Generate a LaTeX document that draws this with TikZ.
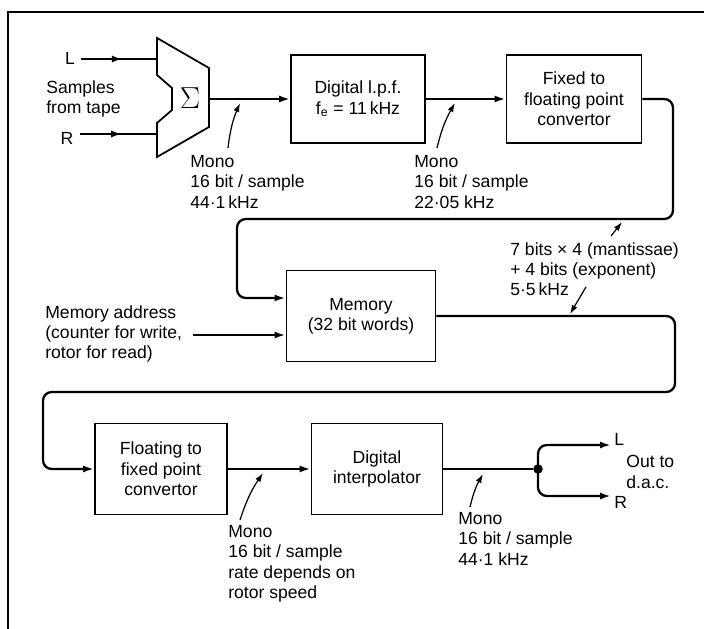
\documentclass[tikz,border=0pt]{standalone}
\usepackage{fontspec}
\setmainfont{Liberation Sans}
\usetikzlibrary{arrows.meta,decorations.markings}

\begin{document}
\begin{tikzpicture}[x=0.02cm,y=-0.02cm,>={Latex[length=2.2mm,width=1.4mm]},
  font=\fontsize{10}{11.6}\selectfont,
  blk/.style 2 args={draw,line width=1pt,align=center,inner sep=0pt,
    minimum width=#1,minimum height=#2},
  conn/.style={line width=1.3pt},
  note/.style={align=left,anchor=north west,inner sep=0pt},
  pointer/.style={line width=0.7pt,-{Latex[length=1.8mm,width=1.2mm]}},
  midarrow/.style={postaction={decorate},
    decoration={markings,mark=at position #1 with {\arrow{>}}}}]
  \useasboundingbox (0,0) rectangle (704,629);
  % frame
  \draw[line width=1pt] (8,629) -- (8,12) -- (704,12);

  % summing block
  \draw[line width=1pt] (157,38) -- (157,75) -- (172,88) -- (172,110)
    -- (157,123) -- (157,157) -- (209,127) -- (209,68) -- cycle;
  \node (sigma) at (190,98) {\fontsize{16}{16}\selectfont$\Sigma$};
  \coordinate (sumL) at (157,59);
  \coordinate (sumR) at (157,134);
  \coordinate (sumout) at (209,99);

  % tape inputs
  \node (inL) at (70,58) {L};
  \node (inR) at (67,138) {R};
  \node[note] (src) at (46,80) {Samples\\from tape};
  \draw[conn,midarrow=0.55] (inL.east |- sumL) -- (sumL);
  \draw[conn,midarrow=0.55] (inR.east |- sumR) -- (sumR);

  % blocks
  \node[blk={2.68cm}{1.76cm}] (lpf) at (358,99) {Digital l.p.f.\\f\textsubscript{e} = 11\,kHz};
  \node[blk={2.7cm}{1.76cm}] (fixed) at (574,99) {Fixed to\\floating point\\convertor};
  \node[blk={2.98cm}{1.82cm}] (mem) at (361,316) {Memory\\(32 bit words)};
  \node[blk={2.64cm}{1.82cm}] (float) at (161,469) {Floating to\\fixed point\\convertor};
  \node[blk={2.62cm}{1.82cm}] (interp) at (377,469) {Digital\\interpolator};

  % main chain
  \draw[conn,->] (sumout) -- (lpf.west);
  \draw[conn,->] (lpf.east) -- (fixed.west);
  \coordinate (memA) at (237,298);
  \draw[conn,->,rounded corners=5pt] (fixed.east) -| (673,219) -| (memA) -- (memA -| mem.west);
  \node[note] (addr) at (45,305) {Memory address\\(counter for write,\\rotor for read)};
  \coordinate (memB) at (193,335);
  \draw[conn,->] (memB) -- (memB -| mem.west);
  \draw[conn,->,rounded corners=5pt] (mem.east) -| (675,392) -| (43,469) -- (float.west);
  \draw[conn,->] (float.east) -- (interp.west);

  % output split
  \node[circle,fill,inner sep=0pt,minimum size=0.19cm] (split) at (538,469) {};
  \draw[conn] (interp.east) -- (split);
  \coordinate (toL) at (611,445);
  \coordinate (toR) at (611,496);
  \draw[conn,->,rounded corners=5pt] (split.center) |- (toL);
  \draw[conn,->,rounded corners=5pt] (split.center) |- (toR);
  \node[inner sep=0pt,anchor=west] (outL) at (614,439) {L};
  \node[inner sep=0pt,anchor=west] (outR) at (614,502) {R};
  \node[note] (dac) at (626,455) {Out to\\d.a.c.};

  % data format notes
  \node[note] (m1) at (190,155) {Mono\\16 bit / sample\\44·1\,kHz};
  \coordinate (p1) at (240,103);
  \draw[pointer] ([shift={(38,-7)}]m1.north west) to[bend left=8] (p1);
  \node[note] (m2) at (414,155) {Mono\\16 bit / sample\\22·05 kHz};
  \coordinate (p2) at (455,103);
  \draw[pointer] ([shift={(23,-7)}]m2.north west) to[bend left=8] (p2);
  \node[note] (fmt) at (510,242) {7 bits × 4 (mantissae)\\+ 4 bits (exponent)\\5·5\,kHz};
  \coordinate (p3) at (622,222);
  \coordinate (p4) at (570,314);
  \draw[pointer] (611,236) -- (p3);
  \draw[pointer] (586,287) -- (p4);
  \node[note] (m3) at (228,525) {Mono\\16 bit / sample\\rate depends on\\rotor speed};
  \coordinate (p5) at (263,473);
  \draw[pointer] ([shift={(12,-5)}]m3.north west) to[bend left=8] (p5);
  \node[note] (m4) at (458,512) {Mono\\16 bit / sample\\44·1 kHz};
  \coordinate (p6) at (483,474);
  \draw[pointer] ([shift={(12,-5)}]m4.north west) to[bend left=8] (p6);
\end{tikzpicture}
\end{document}
